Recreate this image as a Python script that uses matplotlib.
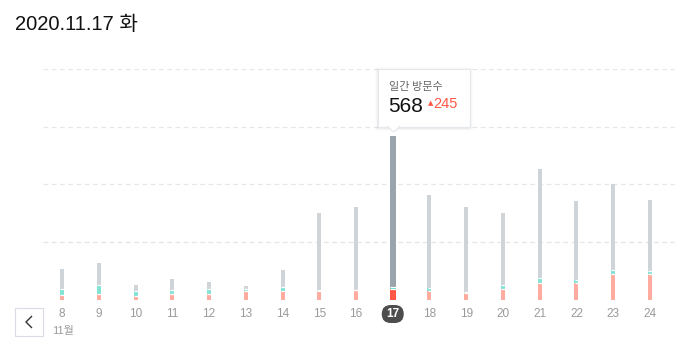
import matplotlib
matplotlib.use("Agg")
import matplotlib.pyplot as plt
from matplotlib.patches import FancyBboxPatch, Polygon, Rectangle
from matplotlib.lines import Line2D

# Daily visits, split into three stacked parts (bottom -> top)
days = [8, 9, 10, 11, 12, 13, 14, 15, 16, 17, 18, 19, 20, 21, 22, 23, 24]
bottom_part = [16, 20, 12, 19, 19, 29, 29, 28, 32, 35, 28, 24, 38, 56, 59, 90, 87]
middle_part = [20, 32, 18, 15, 18, 6, 16, 6, 2, 8, 12, 2, 13, 19, 10, 11, 12]
top_part = [70, 75, 20, 37, 24, 12, 59, 266, 289, 525, 322, 297, 248, 380, 272, 302, 248]
grid_values = [200, 400, 600, 800]
selected_day = 17
selected_date = "2020.11.17 화"
month_label = "11월"
tooltip_title = "일간 방문수"
change_value = 245

W, H, DPI = 675, 344, 100
plt.rcParams["font.family"] = ["Liberation Sans", "Noto Sans CJK KR", "DejaVu Sans"]

fig = plt.figure(figsize=(W / DPI, H / DPI), dpi=DPI)
fig.patch.set_facecolor("white")


def fpos(x, y):
    """pixel position measured from the top-left corner -> figure fraction"""
    return x / W, 1 - y / H


# axes: x=8 at 62px, x=24 at 650px; y=0 at 299.5px, y=800 at 69.3px
step = (650 - 62) / 16
x_left = 8 - (62 - 43) / step
x_right = 24 + (675 - 62 - 16 * step) / step
ax = fig.add_axes([43 / W, (H - 299.5) / H, (W - 43) / W, (299.5 - 69.3) / H])
ax.set_xlim(x_left, x_right)
ax.set_ylim(0, 800)
ax.axis("off")

for g in grid_values:
    ax.axhline(g, color="#e6e6e6", lw=0.9, dashes=(3.8, 2.8), zorder=0)

totals = [a + b + c for a, b, c in zip(bottom_part, middle_part, top_part)]
px_unit = 1 / step
for d, a, b, c in zip(days, bottom_part, middle_part, top_part):
    sel = d == selected_day
    w = (6 if sel else 4) * px_unit
    cols = ("#ff5846", "#4fd3bf", "#9aa4ad") if sel else ("#ffab9f", "#82e2d4", "#cfd4d8")
    ax.bar(d, a, width=w, color=cols[0], zorder=2)
    ax.bar(d, b, bottom=a, width=w, color=cols[1], zorder=2)
    ax.bar(d, c, bottom=a + b, width=w, color=cols[2], zorder=2)
    # thin white separators between the stacked parts
    for yv in (a, a + b):
        ax.hlines(yv, d - w / 2, d + w / 2, color="white", lw=0.9, zorder=3)

fig.canvas.draw()


def data_px(x, y):
    dx, dy = ax.transData.transform((x, y))
    return dx, H - dy


# day labels under the bars
for d in days:
    cx, _ = data_px(d, 0)
    lx, ly = fpos(cx, 314)
    if d == selected_day:
        pw, ph = 22, 18
        bx, by = fpos(cx - pw / 2, 314 + ph / 2)
        pill = FancyBboxPatch((bx, by), pw / W, ph / H,
                              boxstyle=f"round,pad=0,rounding_size={9 / W}",
                              transform=fig.transFigure, fc="#4d4d4d", ec="none",
                              mutation_aspect=W / H)
        fig.patches.append(pill)
        fig.text(lx, ly, str(d), ha="center", va="center", fontsize=8.5,
                 color="white", fontweight="bold")
    else:
        fig.text(lx, ly, str(d), ha="center", va="center", fontsize=8.5,
                 color="#9a9a9a")

mx, my = fpos(52, 331)
fig.text(mx, my, month_label, ha="left", va="center", fontsize=8, color="#9a9a9a")

# previous-week button
bx, by = fpos(15, 335.5)
fig.patches.append(Rectangle((bx, by), 27.5 / W, 27.5 / H, transform=fig.transFigure,
                             fc="white", ec="#dcdae6", lw=0.8))
chev = [fpos(31.5, 316.5), fpos(26, 322), fpos(31.5, 327.5)]
fig.lines.append(Line2D([p[0] for p in chev], [p[1] for p in chev],
                        transform=fig.transFigure, color="#333333", lw=1.0))

# title
tx, ty = fpos(15, 25)
fig.text(tx, ty, selected_date, ha="left", va="center", fontsize=14.5, color="#111111")

# tooltip above the selected bar
sel_idx = days.index(selected_day)
ax_x, ax_y = data_px(selected_day, totals[sel_idx])
left, right = ax_x - 15, ax_x + 77
top, bottom = 69.3, ax_y - 9.5
for k, alpha in enumerate([0.03, 0.02, 0.012]):
    e = k + 1
    sx, sy = fpos(left - e, bottom + e + 1)
    fig.patches.append(Rectangle((sx, sy), (right - left + 2 * e) / W,
                                 (bottom - top + 2 * e) / H, transform=fig.transFigure,
                                 fc="black", ec="none", alpha=alpha))
sx, sy = fpos(left, bottom)
fig.patches.append(Rectangle((sx, sy), (right - left) / W, (bottom - top) / H,
                             transform=fig.transFigure, fc="white", ec="#e4e7ec", lw=0.8))
tri = [fpos(ax_x - 5, bottom), fpos(ax_x + 1, bottom + 5.5), fpos(ax_x + 7, bottom)]
fig.patches.append(Polygon(tri, closed=True, transform=fig.transFigure,
                           fc="white", ec="none"))
fig.lines.append(Line2D([tri[0][0], tri[1][0], tri[2][0]], [tri[0][1], tri[1][1], tri[2][1]],
                        transform=fig.transFigure, color="#e4e7ec", lw=0.8))

t1x, t1y = fpos(left + 11, 87)
fig.text(t1x, t1y, tooltip_title, ha="left", va="center", fontsize=8, color="#666666",
         family=["Noto Sans CJK KR"])
t2x, t2y = fpos(left + 10.5, 106)
fig.text(t2x, t2y, str(totals[sel_idx]), ha="left", va="center", fontsize=15,
         color="#111111")
t3x, t3y = fpos(left + 50.5, 103.5)
fig.text(t3x, t3y, "▲", ha="left", va="center", fontsize=5, color="#ff5846",
         family=["DejaVu Sans"])
t4x, t4y = fpos(left + 55.5, 104)
fig.text(t4x, t4y, str(change_value), ha="left", va="center", fontsize=10.5,
         color="#ff5846")

fig.savefig("out.png", dpi=DPI, facecolor="white")
